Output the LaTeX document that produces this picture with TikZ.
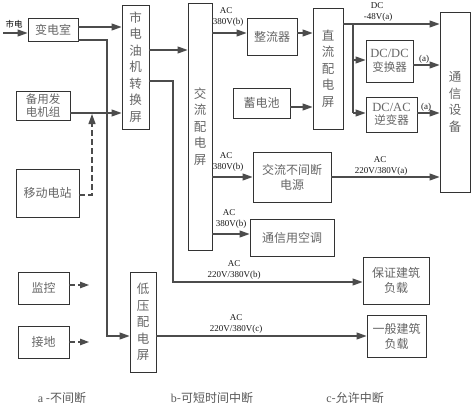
\documentclass[tikz,border=0pt]{standalone}
\usepackage{fontspec}
\setmainfont{Liberation Serif}
\newfontfamily\cjk{Noto Sans CJK SC}
\usetikzlibrary{arrows.meta}
\tikzset{
  box/.style={draw=black!80, line width=0.9pt, inner sep=0pt, align=center,
    font=\cjk\fontsize{12}{15}\selectfont, text=black!60},
  tbox/.style={box, font=\cjk\fontsize{11.5}{13.5}\selectfont},
  vbox/.style={box, font=\cjk\fontsize{12.5}{16.5}\selectfont},
  wire/.style={draw=black!70, line width=1.1pt},
  arr/.style={wire, -{Triangle[length=10pt,width=7pt]}},
  lbl/.style={font=\fontsize{9}{10}\selectfont, text=black!90, inner sep=0pt},
  foot/.style={font=\cjk\fontsize{12}{14}\selectfont, text=black!65, inner sep=0pt}
}
\begin{document}
\begin{tikzpicture}[x=1pt,y=-1pt]
\path[use as bounding box, fill=white] (0,0) rectangle (473,409);

% boxes
\node[box, minimum width=50pt, minimum height=23pt] (bds) at (53,29.5) {变电室};
\node[vbox, minimum width=27pt, minimum height=124pt] (zh) at (135.5,67) {市\\电\\油\\机\\转\\换\\屏};
\node[tbox, minimum width=54pt, minimum height=29pt] (by) at (43,105.5) {备用发\\电机组};
\node[box, minimum width=63pt, minimum height=48pt] (yd) at (47.5,193) {移动电站};
\node[vbox, minimum width=24pt, minimum height=247pt] (jl) at (200,126.5) {交\\流\\配\\电\\屏};
\node[box, minimum width=50pt, minimum height=37pt] (zl) at (272,36.5) {整流器};
\node[vbox, minimum width=30pt, minimum height=121pt] (dcp) at (328,68.5) {直\\流\\配\\电\\屏};
\node[box, minimum width=57pt, minimum height=30pt] (xdc) at (261.5,103) {蓄电池};
\node[tbox, minimum width=47pt, minimum height=42pt] (dcdc) at (389.5,61) {{\rmfamily\fontsize{12.5}{14}\selectfont DC/DC}\\变换器};
\node[tbox, minimum width=51pt, minimum height=35pt] (dcac) at (391.5,114.5) {{\rmfamily\fontsize{12.5}{14}\selectfont DC/AC}\\逆变器};
\node[vbox, minimum width=30pt, minimum height=180pt] (tx) at (455,102) {通\\信\\设\\备};
\node[box, minimum width=78pt, minimum height=50pt] (ups) at (292,177) {交流不间断\\电源};
\node[box, minimum width=84pt, minimum height=37pt] (kt) at (292,237.5) {通信用空调};
\node[box, minimum width=66pt, minimum height=47pt] (bz) at (396,280.5) {保证建筑\\负载};
\node[box, minimum width=59pt, minimum height=42pt] (yb) at (396.5,336) {一般建筑\\负载};
\node[vbox, minimum width=26pt, minimum height=100pt] (dy) at (143,322) {低\\压\\配\\电\\屏};
\node[box, minimum width=51pt, minimum height=32pt] (jk) at (43.5,288) {监控};
\node[box, minimum width=51pt, minimum height=32pt] (jd) at (43.5,342) {接地};

% mains input
\node[font=\cjk\fontsize{8.5}{9}\selectfont, inner sep=0pt] (sdt) at (14,24) {市电};
\coordinate (sd) at (3,33);
\draw[arr] (sd) -- (bds.west |- sd);

% transformer room
\draw[arr] (bds.east |- 0,27) -- (zh.west |- 0,27);
\draw[arr] (bds.east |- 0,40) -| (107,336) -- (dy.west |- 0,336);

% generator
\draw[arr] (by.east |- 0,113) -- (zh.west |- 0,113);

% mobile station (dashed)
\coordinate (dtip) at (92,114);
\draw[wire, dashed, dash pattern=on 6pt off 3pt] (yd.east |- 0,195) -| (92,124);
\draw[arr] (92,124) -- (dtip);

% switch screen outputs
\draw[arr] (zh.east |- 0,50) -- (jl.west |- 0,50);
\draw[arr] (zh.east |- 0,81) -| (173,282) -- (bz.west |- 0,282);
\node[lbl] at (234,264) {AC};
\node[lbl] at (234,275) {220V/380V(b)};

% AC distribution outputs
\draw[arr] (jl.east |- 0,33) -- (zl.west |- 0,33);
\node[lbl] at (226,11) {AC};
\node[lbl] at (228,22) {380V(b)};
\draw[arr] (jl.east |- ups.west) -- (ups.west);
\node[lbl] at (226,156) {AC};
\node[lbl] at (228,167) {380V(b)};
\draw[arr] (jl.east |- 0,234) -- (kt.west |- 0,234);
\node[lbl] at (229,213) {AC};
\node[lbl] at (231,224) {380V(b)};

% rectifier / battery
\draw[arr] (zl.east |- 0,33) -- (dcp.west |- 0,33);
\draw[arr] (xdc.east |- 0,107) -- (dcp.west |- 0,107);

% DC distribution
\draw[arr] (dcp.east |- 0,24) -- (tx.west |- 0,24);
\node[lbl] at (377,6) {DC};
\node[lbl] at (378,17) {-48V(a)};
\coordinate (br) at (353,24);
\draw[wire] (br) -- (353,113);
\draw[arr] (353,60) -- (dcdc.west |- 0,60);
\draw[arr] (353,113) -- (dcac.west |- 0,113);
\draw[arr] (dcdc.east |- 0,65) -- (tx.west |- 0,65);
\node[lbl] at (424,59) {(a)};
\draw[arr] (dcac.east |- 0,113) -- (tx.west |- 0,113);
\node[lbl] at (426,107) {(a)};

% UPS output
\draw[arr] (ups.east) -- (tx.west |- ups.east);
\node[lbl] at (380,160) {AC};
\node[lbl] at (381,171) {220V/380V(a)};

% low voltage screen output
\draw[arr] (dy.east |- 0,336) -- (yb.west |- 0,336);
\node[lbl] at (236,318) {AC};
\node[lbl] at (236,329) {220V/380V(c)};

% monitoring / grounding
\draw[wire, dashed, dash pattern=on 6pt off 3pt, -{Triangle[length=9pt,width=6.5pt]}] (jk.east |- 0,285) -- (89,285);
\draw[wire, dashed, dash pattern=on 6pt off 3pt, -{Triangle[length=9pt,width=6.5pt]}] (jd.east |- 0,342) -- (89,342);

% legend
\node[foot] (la) at (62,398) {{\rmfamily a} -不间断};
\node[foot] (lb) at (212,398) {{\rmfamily b}-可短时间中断};
\node[foot] (lc) at (355,398) {{\rmfamily c}-允许中断};
\end{tikzpicture}
\end{document}
